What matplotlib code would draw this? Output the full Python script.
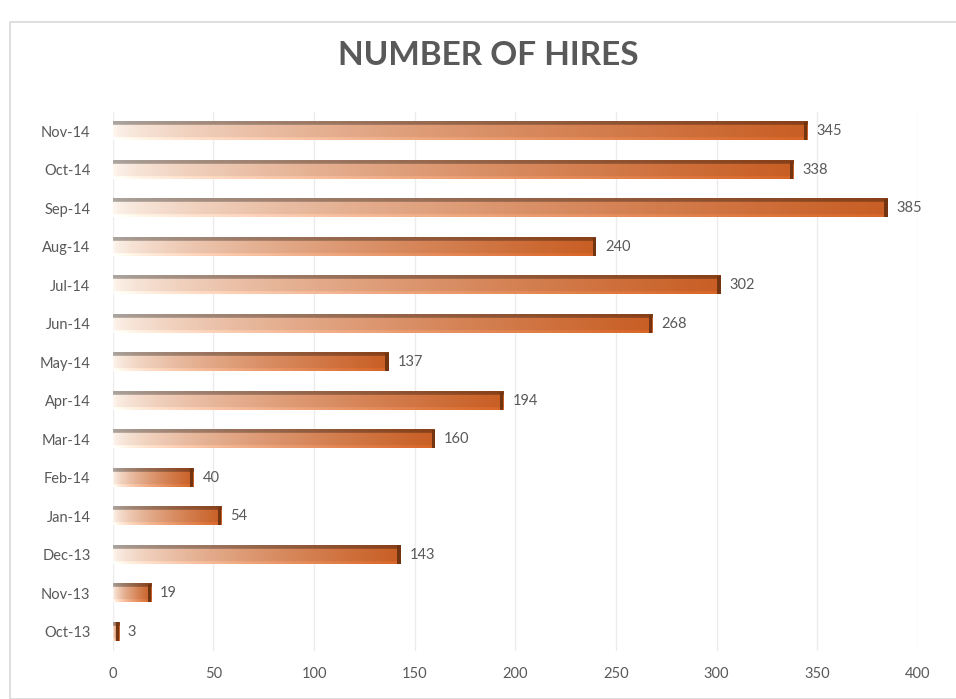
import numpy as np
import matplotlib
matplotlib.use("Agg")
import matplotlib.pyplot as plt
from matplotlib.patches import Rectangle

plt.rcParams['font.family'] = ['Lato', 'DejaVu Sans']

# data, bottom to top
months = ['Oct-13', 'Nov-13', 'Dec-13', 'Jan-14', 'Feb-14', 'Mar-14', 'Apr-14',
          'May-14', 'Jun-14', 'Jul-14', 'Aug-14', 'Sep-14', 'Oct-14', 'Nov-14']
hires = [3, 19, 143, 54, 40, 160, 194, 137, 268, 302, 240, 385, 338, 345]

text_grey = '#595959'
orange = np.array([200, 94, 36]) / 255.0
light = np.array([253, 245, 238]) / 255.0
edge = np.array([115, 52, 18]) / 255.0

fig = plt.figure(figsize=(9.56, 6.99), dpi=100)
# chart frame
fig.patches.append(Rectangle((10 / 956, 0), 1, 1 - 22 / 699, transform=fig.transFigure,
                             fill=False, edgecolor='#d9d9d9', linewidth=1.2))
ax = fig.add_axes([0.118, 0.069, 0.842, 0.771])

# gradient image for one bar: light at left, orange at right, darker top rim
ncol = 200
t = np.linspace(0, 1, ncol) ** 0.65
row = light[None, :] * (1 - t[:, None]) + orange[None, :] * t[:, None]
shade = np.ones(20)
shade[-4:] = 0.68
shade[:3] = 1.08
img = np.clip(row[None, :, :] * shade[:, None, None], 0, 1)

h = 0.47
for i, v in enumerate(hires):
    ax.imshow(img, extent=(0, v, i - h / 2, i + h / 2), origin='lower',
              aspect='auto', interpolation='bilinear', zorder=2)
    cap = min(1.6, v * 0.5)
    ax.add_patch(Rectangle((v - cap, i - h / 2), cap, h, facecolor=edge,
                           edgecolor='none', zorder=3))
    ax.text(v + 4.5, i, str(v), va='center', ha='left', fontsize=10.5, color=text_grey)

ax.set_xlim(0, 400)
ax.set_ylim(-0.5, len(months) - 0.5)
ax.set_aspect('auto')
ax.set_xticks(range(0, 401, 50))
ax.set_yticks(range(len(months)))
ax.set_yticklabels(months)
ax.tick_params(length=0, labelsize=10.5, labelcolor=text_grey)
ax.tick_params(axis='x', pad=12)
ax.tick_params(axis='y', pad=16)
ax.grid(axis='x', color='#ececec', linewidth=1, zorder=0)
ax.set_axisbelow(True)
for s in ax.spines.values():
    s.set_visible(False)

fig.text(0.511, 0.921, 'NUMBER OF HIRES', ha='center', va='center',
         fontsize=24, fontweight='bold', color=text_grey)

fig.savefig('out.png', dpi=100)
